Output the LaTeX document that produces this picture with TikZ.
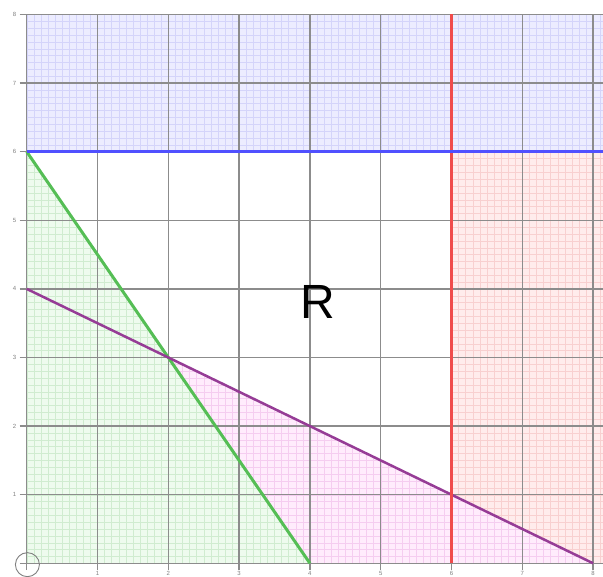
\documentclass[tikz,border=0pt]{standalone}
\usepackage{fontspec}
\setmainfont{Liberation Sans}
\definecolor{bluefill}{RGB}{236,236,255}
\definecolor{blueminor}{RGB}{212,212,250}
\definecolor{redfill}{RGB}{255,236,236}
\definecolor{redminor}{RGB}{248,208,208}
\definecolor{greenfill}{RGB}{238,251,238}
\definecolor{greenminor}{RGB}{208,236,208}
\definecolor{pinkfill}{RGB}{255,236,252}
\definecolor{pinkminor}{RGB}{245,205,240}
\definecolor{majorgrid}{RGB}{140,140,140}
\definecolor{bline}{RGB}{80,80,255}
\definecolor{rline}{RGB}{240,75,75}
\definecolor{gline}{RGB}{85,190,85}
\definecolor{pline}{RGB}{150,60,150}
\tikzset{
  minorgrid/.style={line width=0.35pt, xstep=7.08pt, ystep=6.86pt},
  majorline/.style={majorgrid, line width=1.4pt},
  ticklabel/.style={text=gray, font=\fontsize{6}{6}\selectfont, inner sep=0pt},
  constraint/.style={line width=3pt},
}
\begin{document}
\begin{tikzpicture}[x=70.8pt,y=68.6pt]
\useasboundingbox (-26.7pt,-13.7pt) rectangle (576.3pt,563.3pt);
\fill[white] (-26.7pt,-13.7pt) rectangle (576.3pt,563.3pt);
% shaded regions with fine grid
\begin{scope}
  \clip (0,6) rectangle (8.14,8);
  \fill[bluefill] (0,6) rectangle (8.14,8);
  \draw[blueminor, minorgrid] (0,6) grid (8.14,8);
\end{scope}
\begin{scope}
  \clip (6,0) rectangle (8.14,6);
  \fill[redfill] (6,0) rectangle (8.14,6);
  \draw[redminor, minorgrid] (6,0) grid (8.14,6);
\end{scope}
\begin{scope}
  \clip (0,0) -- (0,4) -- (8,0) -- cycle;
  \fill[pinkfill] (0,0) rectangle (8,4);
  \draw[pinkminor, minorgrid] (0,0) grid (8,4);
\end{scope}
\begin{scope}
  \clip (0,0) -- (0,6) -- (4,0) -- cycle;
  \fill[greenfill] (0,0) rectangle (4,6);
  \draw[greenminor, minorgrid] (0,0) grid (4,6);
\end{scope}
% major grid
\foreach \i in {0,...,8} {
  \draw[majorline] (\i,-0.1) -- (\i,8);
  \draw[majorline] (-0.1,\i) -- (8.14,\i);
}
% constraint lines
\draw[constraint, gline] (0,6) -- (4,0);
\draw[constraint, pline, line width=2.5pt] (0,4) -- (8,0);
\draw[constraint, rline] (6,0) -- (6,8);
\draw[constraint, bline] (0,6) -- (8.14,6);
% tick labels
\foreach \i in {1,...,8} {
  \node[ticklabel] (yl\i) at (-0.17,\i) {\i};
  \node[ticklabel] (xl\i) at (\i,-0.15) {\i};
}
\node[draw=gray, circle, line width=0.9pt, minimum size=24pt, inner sep=0pt] (origin) at (0.01,-0.02) {};
\node[font=\fontsize{48}{48}\selectfont, inner sep=0pt] (R) at (4.115,3.81) {R};
\end{tikzpicture}
\end{document}
